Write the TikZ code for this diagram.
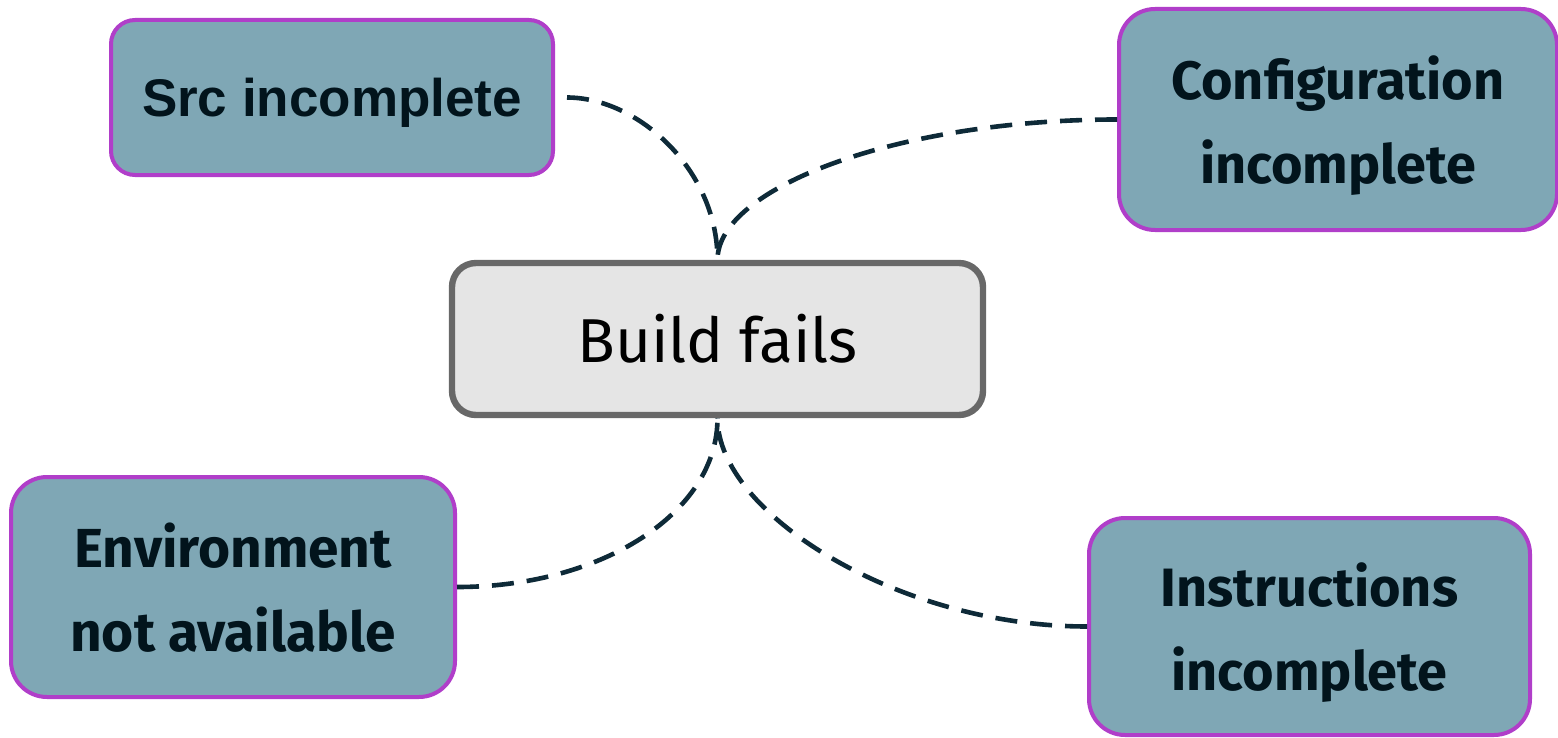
\documentclass[tikz,border=0pt]{standalone}
\usepackage{fontspec}
\setmainfont{Fira Sans}
\newfontfamily\arialfont{Liberation Sans}
\definecolor{boxfill}{RGB}{127,167,181}
\definecolor{boxline}{RGB}{176,62,201}
\definecolor{txt}{RGB}{2,20,28}
\definecolor{mainfill}{RGB}{229,229,229}
\definecolor{mainline}{RGB}{104,104,104}
\definecolor{conn}{RGB}{14,42,56}
\tikzset{
  causebox/.style={draw=boxline, fill=boxfill, line width=2pt, rounded corners=18pt,
    text=txt, align=center, inner sep=0pt, text depth=0pt, font=\fontsize{27}{42}\selectfont\bfseries},
  mainbox/.style={draw=mainline, fill=mainfill, line width=3.2pt, rounded corners=12pt,
    text=black, align=center, inner sep=0pt, font=\fontsize{31}{38}\selectfont},
  link/.style={draw=conn, line width=2.3pt, dash pattern=on 11pt off 6.5pt}
}
\begin{document}
\begin{tikzpicture}[x=0.5pt,y=-0.5pt]
\useasboundingbox (0,0) rectangle (1558,738);
\node[causebox, minimum width=221pt, minimum height=77.5pt, rounded corners=12pt,
  font=\fontsize{26.5}{32}\selectfont\arialfont\bfseries] (src) at (332,97.5) {Src incomplete};
\node[causebox, minimum width=219pt, minimum height=110.5pt] (cfg) at (1338,119.5) {Configuration\\incomplete};
\node[mainbox, minimum width=265.5pt, minimum height=76pt] (build) at (717.5,339) {Build fails};
\node[causebox, minimum width=222pt, minimum height=110pt, font=\fontsize{27.5}{42}\selectfont\bfseries] (env) at (233,587) {Environment\\not available};
\node[causebox, minimum width=220.5pt, minimum height=108.5pt] (ins) at (1309.5,626.5) {Instructions\\incomplete};
\draw[link, shorten <=6pt] (src.east) .. controls +(83,0) and +(0,-90) .. (build.north);
\draw[link] (cfg.west) .. controls +(-219,0) and +(0,-72) .. (build.north);
\draw[link] (env.east) .. controls +(144,0) and +(0,95) .. (build.south);
\draw[link] (ins.west) .. controls +(-189,0) and +(0,95) .. (build.south);
\end{tikzpicture}
\end{document}
